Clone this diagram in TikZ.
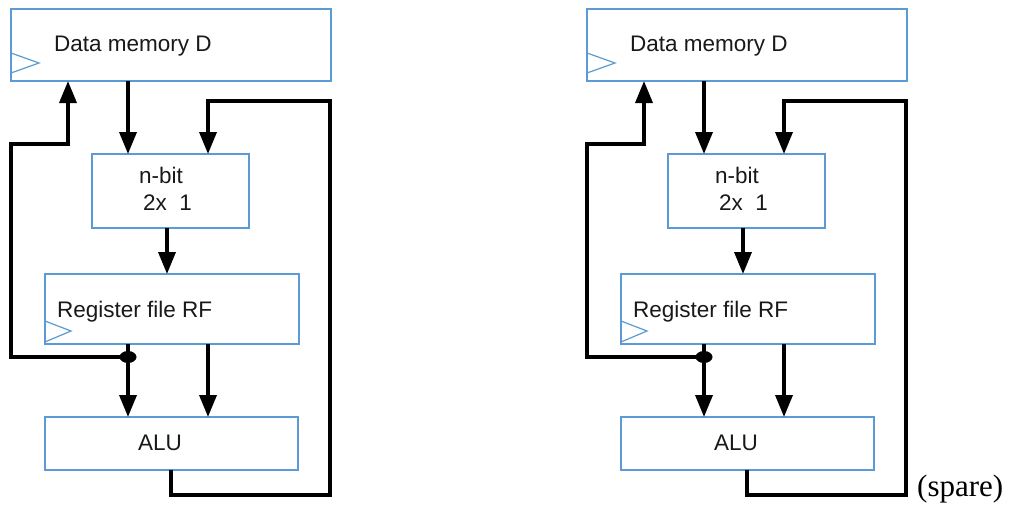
\documentclass[tikz,border=0pt]{standalone}
\usepackage{fontspec}
\setmainfont{Liberation Serif}
\newfontfamily\labelfont{Liberation Sans}
\usetikzlibrary{arrows.meta,shapes.geometric}
\definecolor{boxblue}{RGB}{91,155,213}
\begin{document}
\begin{tikzpicture}[x=1pt,y=-1pt,
  unit/.style={draw=boxblue,line width=1.3pt,fill=white,inner sep=0pt,outer sep=0pt},
  clk/.style={draw=boxblue,line width=1.2pt},
  lbl/.style={font=\labelfont\fontsize{22.5}{26}\selectfont,text=black!90,inner sep=0pt,anchor=base west},
  wire/.style={line width=3.5pt,line join=miter,line cap=butt},
  arr/.style={wire,-{Triangle[length=22pt,width=17pt]}},
  junction/.style={ellipse,fill=black,minimum width=17pt,minimum height=12pt,inner sep=0pt},
]
\useasboundingbox (0,0) rectangle (1009,514);

% two identical datapaths, side by side
\foreach \ox/\p in {0/L,576/R}{
  % functional units
  \node[unit,minimum width=320pt,minimum height=72pt] (\p-dm)  at (\ox+171,45)    {};
  \node[unit,minimum width=157pt,minimum height=74pt] (\p-mux) at (\ox+170.5,191) {};
  \node[unit,minimum width=254pt,minimum height=70pt] (\p-rf)  at (\ox+172,309)   {};
  \node[unit,minimum width=253pt,minimum height=53pt] (\p-alu) at (\ox+171.5,443.5) {};

  % clock inputs
  \draw[clk] ([yshift=28pt]\p-dm.south west) -- ([xshift=28pt,yshift=18pt]\p-dm.south west) -- ([yshift=8pt]\p-dm.south west);
  \draw[clk] ([yshift=23pt]\p-rf.south west) -- ([xshift=26pt,yshift=13pt]\p-rf.south west) -- ([yshift=2pt]\p-rf.south west);

  % labels
  \node[lbl] (\p-dmtxt)  at (\ox+54,51)   {Data memory D};
  \node[lbl] (\p-muxa)   at (\ox+139,183) {n-bit};
  \node[lbl] (\p-muxb)   at (\ox+143,210) {2x\ \ 1};
  \node[lbl] (\p-rftxt)  at (\ox+57,317)  {Register file RF};
  \node[lbl] (\p-alutxt) at (\ox+138,450) {ALU};

  % wire columns and corners
  \coordinate (\p-xL) at (\ox+68,0);
  \coordinate (\p-xA) at (\ox+128,0);
  \coordinate (\p-xB) at (\ox+208,0);
  \coordinate (\p-xM) at (\ox+167,0);
  \coordinate (\p-xO) at (\ox+171,0);
  \coordinate (\p-lt) at (\ox+11,144);
  \coordinate (\p-rt) at (\ox+330,101);
  \coordinate (\p-rb) at (\ox+330,495);

  % data paths
  \draw[arr] (\p-dm.south -| \p-xA) -- (\p-mux.north -| \p-xA);
  \draw[arr] (\p-mux.south -| \p-xM) -- (\p-rf.north -| \p-xM);
  \draw[arr] (\p-rf.south -| \p-xA) -- (\p-alu.north -| \p-xA);
  \draw[arr] (\p-rf.south -| \p-xB) -- (\p-alu.north -| \p-xB);

  % register output back to memory address
  \node[junction] (\p-dot) at (\ox+128,357) {};
  \draw[arr] (\p-dot.center) -| (\p-lt) -| (\p-dm.south -| \p-xL);

  % ALU result back to the multiplexer
  \draw[arr] (\p-alu.south -| \p-xO) |- (\p-rb) -- (\p-rt) -| (\p-mux.north -| \p-xB);
}

\node[font=\fontsize{31}{36}\selectfont,anchor=base west,inner sep=0pt] (spare) at (917,496) {(spare)};
\end{tikzpicture}
\end{document}
